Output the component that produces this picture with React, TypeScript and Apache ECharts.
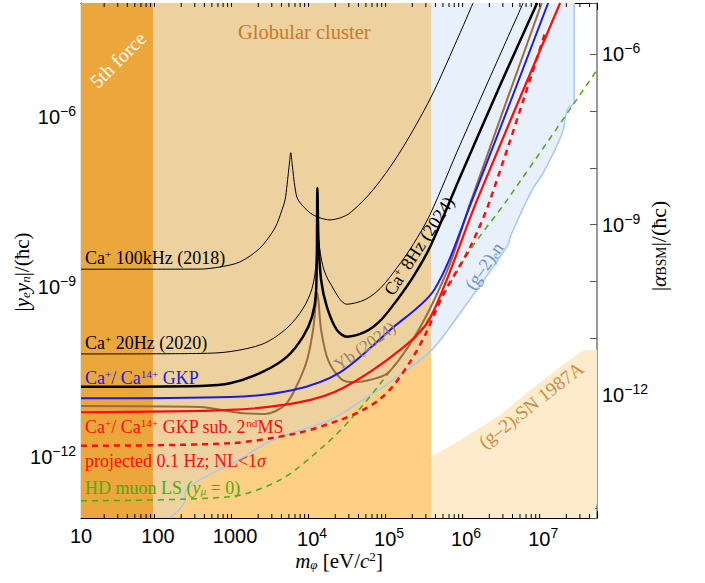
import React, { useEffect, useRef } from "react";
import * as echarts from "echarts";

// ---------- axis ranges ----------
const X_MIN = 10;
const X_MAX = 5e7;
const Y_MIN = 8.6e-14;
const Y_MAX = 1e-4;
const FOUR_PI = 4 * Math.PI;

// ---------- excluded regions ----------
const fifthForceEdge = 86; // eV
const globularEdge = 3.5e5; // eV

// (g-2)_e n boundary (from bottom-left to top-right)
const g2enBoundary: [number, number][] = [
  [143, Y_MIN], [224, 1.79e-13], [224, 2.37e-13], [351, 4.02e-13], [942, 8.0e-13],
  [3119, 2.03e-12], [17100, 4.57e-12], [45900, 1.03e-11], [113000, 2.31e-11],
  [350000, 7.6e-11], [835000, 3.5e-10], [3.51e6, 5.51e-9], [3.73e6, 7.62e-9],
  [7.19e6, 5.13e-8], [1e7, 1.02e-7], [1.77e7, 5.16e-7], [2.05e7, 1.31e-6],
  [2.53e7, 1.81e-6], [2.53e7, Y_MAX],
];

// (g-2)_e SN1987A upper boundary
const sn1987aBoundary: [number, number][] = [
  [350000, 1.02e-12], [835000, 2.03e-12], [2.77e6, 5.6e-12], [6.78e6, 1.54e-11],
  [1.66e7, 3.92e-11], [3.31e7, 7.82e-11], [5e7, 7.82e-11],
];
const sn1987aLowerCorner: [number, number][] = [[5e7, 1.58e-13], [4.33e7, Y_MIN]];

// ---------- bound curves ----------
const ca100kHz2018: [number, number][] = [
  [10, 2.06e-9], [351, 2.07e-9], [638, 2.26e-9], [1160, 2.77e-9], [2113, 4.88e-9],
  [3300, 1.1e-8], [4070, 2.28e-8], [4460, 3.42e-8], [4730, 6.28e-8], [5100, 1.59e-7],
  [5280, 2.32e-7], [5530, 1.41e-7], [6010, 5.55e-8], [6580, 3.42e-8], [9420, 2.02e-8],
  [12700, 1.65e-8], [17100, 1.52e-8], [23100, 1.65e-8], [31200, 2.02e-8],
  [61900, 5.13e-8], [139000, 2.39e-7], [351000, 2.22e-6], [835000, 2.98e-5], [1.23e6, 1e-4],
];
const ca20Hz2020: [number, number][] = [
  [10, 6.64e-11], [351, 6.78e-11], [861, 7.3e-11], [2310, 1.0e-10], [4730, 1.9e-10],
  [7640, 4.2e-10], [10000, 9.5e-10], [11300, 2.8e-9], [11720, 5.55e-8], [12200, 6.75e-9],
  [13900, 2.26e-9], [17100, 1.18e-9], [28300, 4.98e-10], [48700, 6.0e-10],
  [76400, 9.4e-10], [127000, 2.2e-9], [205000, 5.6e-9], [340000, 1.89e-8],
  [835000, 3.2e-7], [5.5e6, 1e-4],
];
const ca8Hz2024: [number, number][] = [
  [10, 1.76e-11], [351, 1.82e-11], [861, 2.02e-11], [2310, 3.24e-11], [4730, 5.96e-11],
  [7640, 1.34e-10], [10000, 3.01e-10], [11300, 8.89e-10], [11720, 5.55e-8], [12100, 6.75e-9],
  [13100, 1.33e-9], [15530, 4.52e-10], [20940, 1.76e-10], [28250, 1.34e-10],
  [48700, 1.62e-10], [76400, 2.53e-10], [127000, 5.93e-10], [205000, 1.51e-9],
  [340000, 5.08e-9], [835000, 8.67e-8], [2.77e6, 3.61e-6], [8.36e6, 1e-4],
];
const yb2024: [number, number][] = [
  [10, 8.07e-12], [351, 7.75e-12], [1160, 6.08e-12], [2455, 5.84e-12], [4460, 8.4e-12],
  [6380, 1.89e-11], [8610, 5.21e-11], [10300, 1.76e-10], [11720, 7.87e-10], [13100, 1.76e-10],
  [16100, 5.21e-11], [23100, 2.51e-11], [31200, 2.13e-11], [48700, 2.22e-11],
  [94200, 3.0e-11], [187000, 1.0e-10], [340000, 4.2e-10], [620000, 2.6e-9],
  [1.13e6, 3.0e-8], [9.6e6, 1e-4],
];
const caGKP: [number, number][] = [
  [10, 1.1e-11], [861, 1.16e-11], [5660, 1.54e-11], [23100, 3.16e-11], [103000, 1.76e-10],
  [384000, 8.89e-10], [1.2e6, 3.42e-8], [1.16e7, 1e-4],
];
const caGKPsub: [number, number][] = [
  [10, 6.25e-12], [861, 6.86e-12], [6980, 9.4e-12], [25300, 1.67e-11], [139000, 7.82e-11],
  [340000, 2.83e-10], [1.39e6, 3.42e-8], [1.66e7, 1e-4],
];
const projected01Hz: [number, number][] = [
  [10, 1.61e-12], [861, 1.78e-12], [6380, 2.67e-12], [23100, 4.57e-12], [45900, 6.86e-12],
  [76400, 1.07e-11], [113000, 1.82e-11], [187000, 4.8e-11], [294000, 1.44e-10],
  [502000, 7.26e-10], [1.13e6, 5.08e-9], [2.05e6, 3.42e-8], [1.09e7, 3.36e-5],
];
const hdMuonLS: [number, number][] = [
  [10, 1.73e-13], [861, 2.04e-13], [3840, 4.02e-13], [13900, 1.55e-12], [31200, 4.57e-12],
  [83500, 2.31e-11], [340000, 2.98e-10], [1.13e6, 4.5e-9], [3.41e6, 3.42e-8], [5e7, 6.64e-6],
];

// minor tick positions on the mass axis (2..9 per decade)
const minorX: number[] = [];
for (let e = 1; e <= 7; e++) for (let k = 2; k <= 9; k++) {
  const v = k * Math.pow(10, e);
  if (v < X_MAX) minorX.push(v);
}

const SERIF = "'Liberation Serif', 'DejaVu Serif', serif";
const SANS = "'Liberation Sans', Arial, sans-serif";

const COLORS = {
  fifth: "#EBA73B",
  globular: "#EDD29F",
  overlap: "#FDD086",
  g2en: "#E8F0FB",
  g2enLine: "#A9C7EC",
  sn: "#FEEBCC",
  globularText: "#C8792B",
  black: "#000000",
  blue: "#1C1CE0",
  red: "#FF0A0A",
  brown: "#9B6D3E",
  green: "#4DAA12",
};

function polygon(name: string, pts: [number, number][], color: string, z: number) {
  return {
    type: "custom",
    name,
    coordinateSystem: "cartesian2d",
    xAxisIndex: 0,
    yAxisIndex: 0,
    silent: true,
    clip: true,
    z,
    data: [pts[0]],
    renderItem: (_p: any, api: any) => ({
      type: "polygon",
      shape: { points: pts.map((p) => api.coord(p)) },
      style: { fill: color },
    }),
  };
}

function curve(name: string, data: [number, number][], color: string, width: number, dash?: number[], z = 5) {
  return {
    type: "line",
    name,
    data,
    showSymbol: false,
    smooth: 0.3,
    silent: true,
    clip: true,
    z,
    lineStyle: { color, width, type: dash ?? "solid" },
  };
}

function expLabel(v: number, plainBelow: number) {
  const l = Math.log10(v);
  const e = Math.round(l);
  if (Math.abs(l - e) > 1e-6) return "";
  if (e < plainBelow && e >= 0) return String(Math.round(v));
  return "10{sup|" + (e < 0 ? "\u2212" + -e : String(e)) + "}";
}

export default function App() {
  const ref = useRef<HTMLDivElement>(null);
  useEffect(() => {
    if (!ref.current) return;
    const chart = echarts.init(ref.current, undefined, { renderer: "svg" });

    const globularPoly: [number, number][] = [
      [fifthForceEdge, Y_MAX], [globularEdge, Y_MAX],
      ...g2enBoundary.filter((p) => p[0] <= globularEdge).slice().reverse(),
      [fifthForceEdge, Y_MIN],
    ];
    const overlapPoly: [number, number][] = [
      ...g2enBoundary.filter((p) => p[0] <= globularEdge),
      [globularEdge, Y_MIN],
    ];
    const g2enPoly: [number, number][] = [
      ...g2enBoundary.filter((p) => p[0] >= globularEdge),
      [globularEdge, Y_MAX],
    ];
    const snPoly: [number, number][] = [
      [globularEdge, Y_MIN], ...sn1987aBoundary, ...sn1987aLowerCorner,
    ];
    const fifthPoly: [number, number][] = [
      [X_MIN, Y_MIN], [fifthForceEdge, Y_MIN], [fifthForceEdge, Y_MAX], [X_MIN, Y_MAX],
    ];

    const supRich = { sup: { fontSize: 14, fontFamily: SANS, padding: [0, 0, 12, 0] } };
    const tickLabel = { fontSize: 20, fontFamily: SANS, color: "#000", rich: supRich };

    const txt = (x: number, y: number, rich: string, color: string, size: number, opts: any = {}) => ({
      type: "text",
      x,
      y,
      rotation: opts.rotation ?? 0,
      z: 100,
      silent: true,
      style: {
        text: rich,
        fill: color,
        fontSize: size,
        fontFamily: SERIF,
        align: opts.align ?? "left",
        verticalAlign: "middle",
        rich: {
          s: { fontSize: size * 0.62, fill: color, fontFamily: SERIF, padding: [0, 0, size * 0.45, 0] },
          b: { fontSize: size * 0.62, fill: color, fontFamily: SERIF, padding: [size * 0.35, 0, 0, 0] },
          i: { fontSize: size, fill: color, fontFamily: SERIF, fontStyle: "italic" },
          ib: { fontSize: size * 0.62, fill: color, fontFamily: SERIF, fontStyle: "italic", padding: [size * 0.35, 0, 0, 0] },
        },
      },
    });

    const yFormatter = (v: number) => {
      const l = Math.log10(v); const e = Math.round(l);
      if (Math.abs(l - e) > 1e-6 || e % 3 !== 0) return "";
      return expLabel(v, 4);
    };

    const option: any = {
      animation: false,
      backgroundColor: "#ffffff",
      grid: { left: 81, right: 108, top: 3, bottom: 65, containLabel: false },
      xAxis: [
        {
          type: "log", min: X_MIN, max: X_MAX, position: "bottom",
          axisLine: { show: true, lineStyle: { color: "#000", width: 1.2 } },
          axisTick: { show: true, inside: true, length: 7, lineStyle: { color: "#000" } },
          axisLabel: { ...tickLabel, margin: 8, formatter: (v: number) => expLabel(v, 4) },
          splitLine: { show: false },
        },
        {
          type: "log", min: X_MIN, max: X_MAX, position: "top",
          axisLine: { show: true, lineStyle: { color: "#000", width: 1.2 } },
          axisTick: { show: true, inside: true, length: 7, lineStyle: { color: "#000" } },
          axisLabel: { show: false },
          splitLine: { show: false },
        },
      ],
      yAxis: [
        {
          type: "log", min: Y_MIN, max: Y_MAX, position: "left",
          axisLine: { show: true, lineStyle: { color: "#000", width: 1.2 } },
          axisTick: { show: true, inside: true, length: 7, lineStyle: { color: "#000" } },
          axisLabel: { ...tickLabel, margin: 5, formatter: yFormatter },
          splitLine: { show: false },
        },
        {
          type: "log", min: Y_MIN / FOUR_PI, max: Y_MAX / FOUR_PI, position: "right",
          axisLine: { show: true, lineStyle: { color: "#777", width: 1.5 } },
          axisTick: { show: true, inside: true, length: 7, lineStyle: { color: "#555" } },
          axisLabel: { ...tickLabel, margin: 5, formatter: yFormatter },
          splitLine: { show: false },
        },
      ],
      series: [
        polygon("fifth force", fifthPoly, COLORS.fifth, 1),
        polygon("globular cluster", globularPoly, COLORS.globular, 1),
        polygon("overlap", overlapPoly, COLORS.overlap, 1),
        polygon("(g-2)e n", g2enPoly, COLORS.g2en, 1),
        polygon("SN1987A", snPoly, COLORS.sn, 1),
        curve("(g-2)e n edge", g2enBoundary, COLORS.g2enLine, 1.5, undefined, 3),
        curve("Ca+ 100kHz (2018)", ca100kHz2018, COLORS.black, 1),
        curve("Ca+ 20Hz (2020)", ca20Hz2020, COLORS.black, 1),
        curve("HD muon LS", hdMuonLS, COLORS.green, 1.5, [6, 5]),
        curve("projected 0.1 Hz", projected01Hz, COLORS.red, 2.5, [6, 5]),
        curve("Yb (2024)", yb2024, COLORS.brown, 2),
        curve("Ca+/Ca14+ GKP sub", caGKPsub, COLORS.red, 2.2),
        curve("Ca+/Ca14+ GKP", caGKP, COLORS.blue, 2),
        curve("Ca+ 8Hz (2024)", ca8Hz2024, COLORS.black, 2.5),
        {
          type: "custom",
          name: "minor ticks",
          coordinateSystem: "cartesian2d",
          silent: true,
          clip: false,
          z: 20,
          data: minorX.map((v) => [v, Y_MIN]),
          renderItem: (_p: any, api: any) => {
            const x = api.value(0);
            const b = api.coord([x, Y_MIN]);
            const t = api.coord([x, Y_MAX]);
            return {
              type: "group",
              children: [
                { type: "line", shape: { x1: b[0], y1: b[1], x2: b[0], y2: b[1] - 4 }, style: { stroke: "#000", lineWidth: 1 } },
                { type: "line", shape: { x1: t[0], y1: t[1], x2: t[0], y2: t[1] + 4 }, style: { stroke: "#000", lineWidth: 1 } },
              ],
            };
          },
        },
      ],
      graphic: [
        txt(118, 60, "5th force", "#ffffff", 19.5, { align: "center", rotation: Math.PI / 4 }),
        txt(238, 32, "Globular cluster", COLORS.globularText, 20.5),
        txt(85, 258, "Ca{s|+} 100kHz (2018)", "#000", 18),
        txt(85, 343, "Ca{s|+} 20Hz (2020)", "#000", 18),
        txt(85, 378, "Ca{s|+}/ Ca{s|14+} GKP", COLORS.blue, 18),
        txt(85, 427, "Ca{s|+}/ Ca{s|14+} GKP sub. 2{s|nd}MS", COLORS.red, 18),
        txt(85, 461, "projected 0.1 Hz; NL<1{i|σ}", COLORS.red, 18),
        txt(85, 488, "HD muon LS ({i|y}{ib|μ} = 0)", COLORS.green, 18),
        txt(419, 246, "Ca{s|+} 8Hz (2024)", "#000", 18, { align: "center", rotation: (57 * Math.PI) / 180 }),
        txt(365, 346, "Yb (2024)", "#9E7E5C", 17, { align: "center", rotation: (35 * Math.PI) / 180 }),
        txt(484, 266, "(g\u20132){ib|e}n", "#6A90C4", 18, { align: "center", rotation: (55 * Math.PI) / 180 }),
        txt(531, 405, "(g\u20132){ib|e}SN 1987A", "#CF8A3C", 19, { align: "center", rotation: (38 * Math.PI) / 180 }),
        txt(22, 272, "|{i|y}{ib|e}{i|y}{ib|n}|/(ħc)", "#000", 21, { align: "center", rotation: Math.PI / 2 }),
        txt(658, 246, "|{i|α}{b|BSM}|/(ħc)", "#000", 22, { align: "center", rotation: Math.PI / 2 }),
        txt(339, 561, "{i|m}{ib|φ} [eV/{i|c}{s|2}]", "#000", 21, { align: "center" }),
      ],
    };
    chart.setOption(option);
    return () => chart.dispose();
  }, []);
  return <div ref={ref} style={{ position: "absolute", left: 0, top: 0, width: 705, height: 583 }} />;
}
